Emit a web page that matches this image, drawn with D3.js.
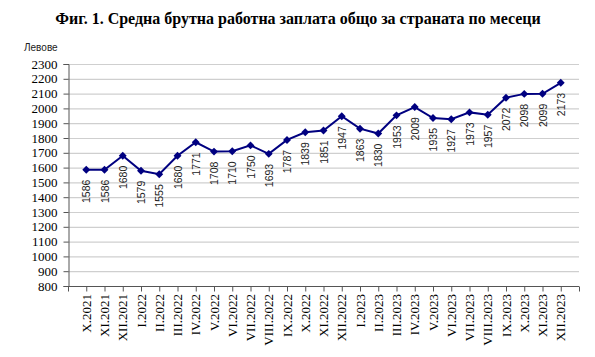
<!DOCTYPE html>
<html><head><meta charset="utf-8">
<script src="https://cdn.jsdelivr.net/npm/d3@7"></script>
<style>body{margin:0;background:#fff;}svg{display:block;}</style>
</head><body>
<svg id="c" width="595" height="357"></svg>
<script>
const categories = ["X.2021","XI.2021","XII.2021","I.2022","II.2022","III.2022","IV.2022","V.2022","VI.2022","VII.2022","VIII.2022","IX.2022","X.2022","XI.2022","XII.2022","I.2023","II.2023","III.2023","IV.2023","V.2023","VI.2023","VII.2023","VIII.2023","IX.2023","X.2023","XI.2023","XII.2023"];
const values = [1586,1586,1680,1579,1555,1680,1771,1708,1710,1750,1693,1787,1839,1851,1947,1863,1830,1953,2009,1935,1927,1973,1957,2072,2098,2099,2173];
const yTicks = d3.range(800, 2301, 100);
const title = "Фиг. 1. Средна брутна работна заплата общо за страната по месеци";
const unit = "Левове";

const svg = d3.select("#c");
const L = 68, R = 579, T = 64, B = 286;
const x = d3.scaleLinear().domain([-1, categories.length]).range([L, R]);
const y = d3.scaleLinear().domain([800, 2300]).range([B, T]);

svg.append("text").attr("x", 298).attr("y", 24).attr("text-anchor", "middle")
  .attr("font-family", "Liberation Serif, Times New Roman, serif").attr("font-weight", "bold")
  .attr("font-size", 16).text(title);
svg.append("text").attr("x", 24).attr("y", 51)
  .attr("font-family", "Liberation Sans, Arial, sans-serif").attr("font-size", 10).attr("fill", "#222").text(unit);

// gridlines
svg.append("g").selectAll("line").data(yTicks.filter(d => d > 800)).join("line")
  .attr("x1", L).attr("x2", R).attr("y1", d => y(d) + 0.5).attr("y2", d => y(d) + 0.5)
  .attr("stroke", "#cfcfcf").attr("stroke-width", 1.2);

// y axis
const ya = svg.append("g").attr("transform", `translate(${L + 0.5},0)`)
  .call(d3.axisLeft(y).tickValues(yTicks).tickSize(5).tickPadding(6).tickFormat(d3.format("d")));
ya.selectAll("path,line").attr("stroke", "#555");
ya.selectAll("text").attr("font-family", "Liberation Serif, Times New Roman, serif").attr("font-size", 13).attr("fill", "#000");

// x axis
const xa = svg.append("g").attr("transform", `translate(0,${B + 0.5})`)
  .call(d3.axisBottom(x).tickValues(d3.range(-1, categories.length + 1)).tickSize(5).tickFormat(""));
xa.selectAll("path,line").attr("stroke", "#555");
xa.select(".domain").attr("d", `M${L},0H${R}`);
svg.append("g").selectAll("text").data(categories).join("text")
  .attr("transform", (d, i) => `translate(${x(i) + 4.5},${B + 8}) rotate(-90)`)
  .attr("text-anchor", "end")
  .attr("font-family", "Liberation Serif, Times New Roman, serif").attr("font-size", 13)
  .text(d => d);

// line
svg.append("path").datum(values)
  .attr("fill", "none").attr("stroke", "#000080").attr("stroke-width", 2)
  .attr("d", d3.line().x((d, i) => x(i)).y(d => y(d)));
svg.append("g").selectAll("path").data(values).join("path")
  .attr("transform", (d, i) => `translate(${x(i)},${y(d)})`)
  .attr("d", d3.symbol(d3.symbolDiamond2, 40)())
  .attr("fill", "#000080");

// data labels
svg.append("g").selectAll("text").data(values).join("text")
  .attr("transform", (d, i) => `translate(${x(i) + 4},${y(d) + 10}) rotate(-90)`)
  .attr("text-anchor", "end")
  .attr("font-family", "Liberation Sans, Arial, sans-serif").attr("font-size", 10.5).attr("fill", "#222")
  .text(d => d);
</script>
</body></html>
